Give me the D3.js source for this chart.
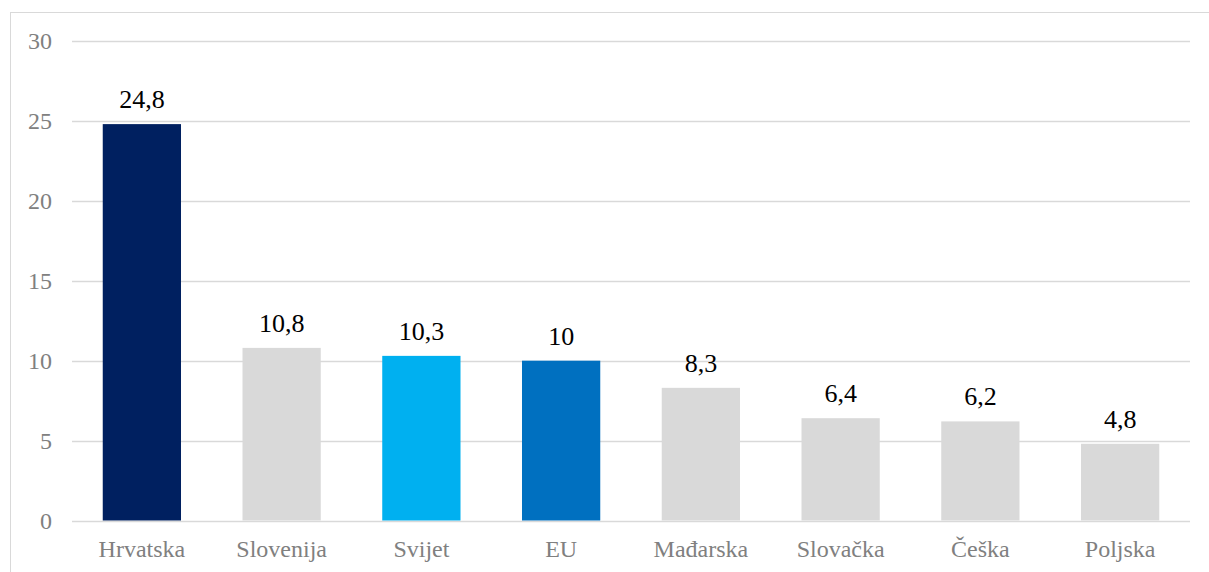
<!DOCTYPE html>
<html>
<head>
<meta charset="utf-8">
<script src="https://cdn.jsdelivr.net/npm/d3@7"></script>
<style>
  html, body { margin: 0; padding: 0; background: #fff; }
  svg { display: block; }
</style>
</head>
<body>
<div id="chart"></div>
<script>
const categories = ["Hrvatska", "Slovenija", "Svijet", "EU", "Mađarska", "Slovačka", "Češka", "Poljska"];
const values = [24.8, 10.8, 10.3, 10, 8.3, 6.4, 6.2, 4.8];
const barColors = ["#002060", "#d9d9d9", "#00b0f0", "#0070c0", "#d9d9d9", "#d9d9d9", "#d9d9d9", "#d9d9d9"];
const yTicks = [0, 5, 10, 15, 20, 25, 30];

const width = 1209;
const height = 572;
const margin = { top: 41, right: 19, bottom: 51.5, left: 72 };
const serif = "'Liberation Serif', 'Times New Roman', serif";

const svg = d3
  .select("#chart")
  .append("svg")
  .attr("width", width)
  .attr("height", height);

// chart frame
svg
  .append("rect")
  .attr("x", 10.5)
  .attr("y", 12.5)
  .attr("width", width + 10)
  .attr("height", height + 10)
  .attr("fill", "none")
  .attr("stroke", "#d9d9d9")
  .attr("stroke-width", 1);

const x = d3
  .scaleBand()
  .domain(categories)
  .range([margin.left, width - margin.right])
  .paddingInner(0.44)
  .paddingOuter(0.22);

const y = d3
  .scaleLinear()
  .domain([0, 30])
  .range([height - margin.bottom, margin.top]);

// gridlines
svg
  .append("g")
  .selectAll("line")
  .data(yTicks)
  .enter()
  .append("line")
  .attr("x1", margin.left)
  .attr("x2", width - margin.right)
  .attr("y1", (d) => Math.round(y(d)) + 0.5)
  .attr("y2", (d) => Math.round(y(d)) + 0.5)
  .attr("stroke", "#d9d9d9")
  .attr("stroke-width", 1.5);

// y axis labels
const yAxis = svg
  .append("g")
  .attr("transform", `translate(${margin.left - 20},0)`)
  .call(d3.axisLeft(y).tickValues(yTicks).tickSize(0).tickPadding(0))
  .attr("font-family", serif);
yAxis.select(".domain").remove();
yAxis
  .selectAll("text")
  .attr("font-family", serif)
  .attr("font-size", 24)
  .attr("fill", "#808080");

// bars
svg
  .append("g")
  .selectAll("rect")
  .data(values)
  .enter()
  .append("rect")
  .attr("x", (d, i) => x(categories[i]))
  .attr("y", (d) => y(d))
  .attr("width", x.bandwidth())
  .attr("height", (d) => y(0) - y(d))
  .attr("fill", (d, i) => barColors[i]);

// value labels
svg
  .append("g")
  .selectAll("text")
  .data(values)
  .enter()
  .append("text")
  .attr("x", (d, i) => x(categories[i]) + x.bandwidth() / 2)
  .attr("y", (d) => y(d) - 16)
  .attr("text-anchor", "middle")
  .attr("font-family", serif)
  .attr("font-size", 26)
  .attr("fill", "#000")
  .text((d) => String(d).replace(".", ","));

// x axis labels
const xAxis = svg
  .append("g")
  .attr("transform", `translate(0,${y(0)})`)
  .call(d3.axisBottom(x).tickSize(0).tickPadding(0))
  .attr("font-family", serif);
xAxis.select(".domain").remove();
xAxis
  .selectAll("text")
  .attr("dy", null)
  .attr("y", 36)
  .attr("font-family", serif)
  .attr("font-size", 24)
  .attr("fill", "#808080");
</script>
</body>
</html>
